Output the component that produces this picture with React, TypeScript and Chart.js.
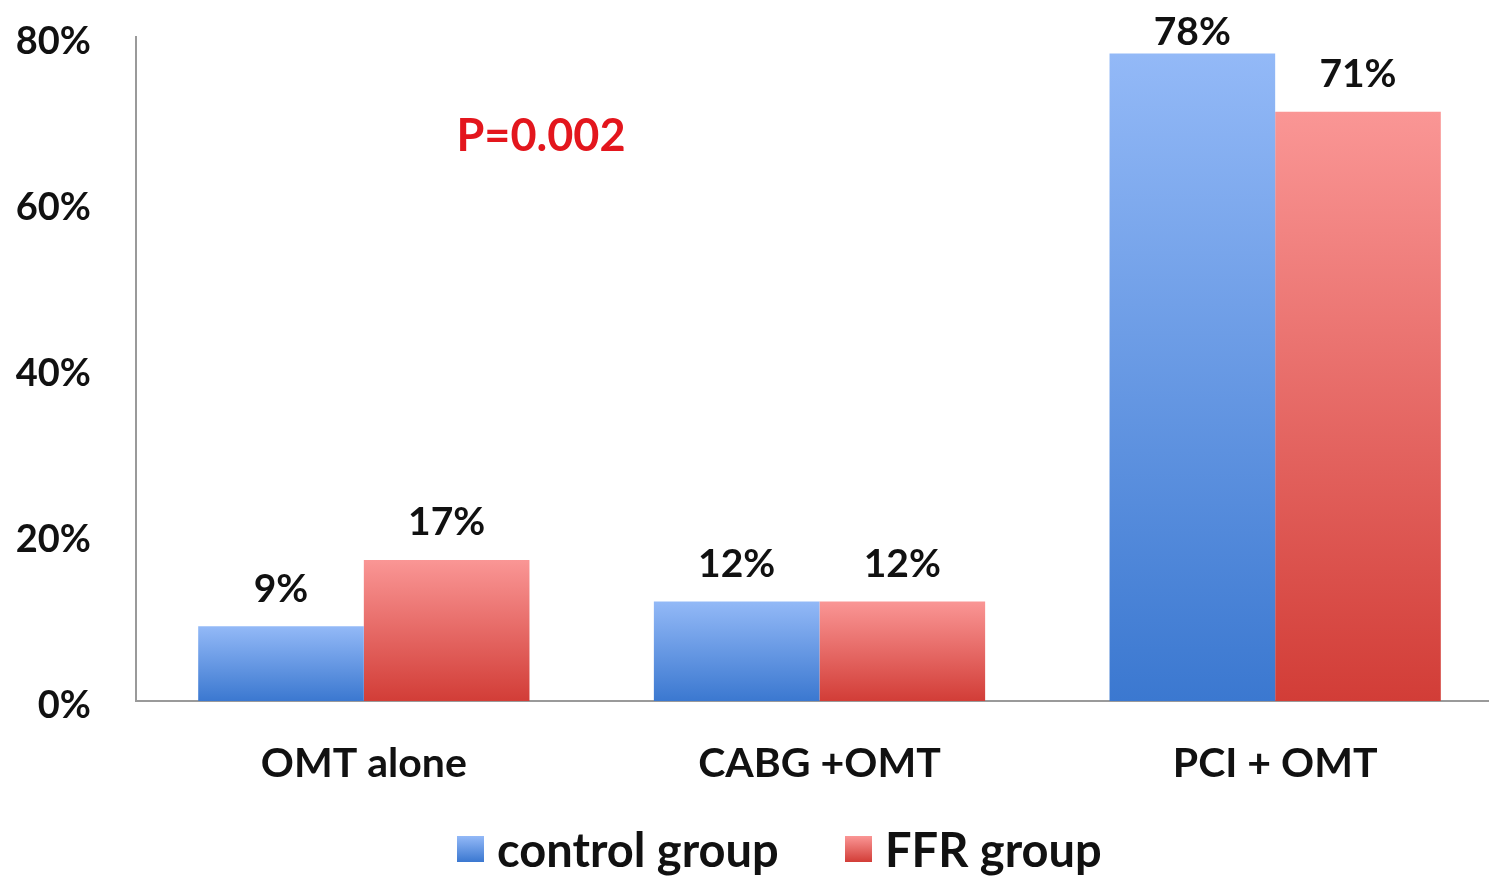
import React, { useEffect, useRef } from "react";
import { Chart, registerables } from "chart.js";

Chart.register(...registerables);

const categories = ["OMT alone", "CABG +OMT", "PCI + OMT"];
const controlGroup = [9, 12, 78];
const ffrGroup = [17, 12, 71];
const seriesNames = ["control group", "FFR group"];
const yTicks = [0, 20, 40, 60, 80];
const pValueText = "P=0.002";

const FONT = "Lato, 'Open Sans', sans-serif";
const WIDTH = 1503;
const HEIGHT = 878;

const palettes = [
  { top: "#93b9f7", bottom: "#3b78d0" },
  { top: "#fa9695", bottom: "#d23d37" },
];

function barGradient(ctx: any, datasetIndex: number) {
  const chart = ctx.chart;
  const y = chart.scales?.y;
  const pal = palettes[datasetIndex];
  if (!y || ctx.type !== "data") return pal.bottom;
  const v = ctx.parsed?.y ?? 0;
  const top = y.getPixelForValue(v);
  const base = y.getPixelForValue(0);
  if (!Number.isFinite(top) || !Number.isFinite(base) || top === base) return pal.bottom;
  const g = chart.ctx.createLinearGradient(0, top, 0, base);
  g.addColorStop(0, pal.top);
  g.addColorStop(1, pal.bottom);
  return g;
}

const valueLabels = {
  id: "valueLabels",
  afterDatasetsDraw(chart: any) {
    const c = chart.ctx;
    c.save();
    c.font = `bold 39px ${FONT}`;
    c.fillStyle = "#111";
    c.textAlign = "center";
    c.textBaseline = "middle";
    chart.data.datasets.forEach((ds: any, i: number) => {
      const meta = chart.getDatasetMeta(i);
      meta.data.forEach((el: any, j: number) => {
        const y = Math.max(el.y - 37, 32);
        c.fillText(`${ds.data[j]}%`, el.x, y);
      });
    });
    c.restore();
  },
};

const annotationAndLegend = {
  id: "annotationAndLegend",
  afterDraw(chart: any) {
    const c = chart.ctx;
    c.save();
    // p-value annotation
    c.font = `bold 45px ${FONT}`;
    c.fillStyle = "#e3161d";
    c.textAlign = "center";
    c.textBaseline = "middle";
    c.fillText(pValueText, 541, 136);

    // legend at the bottom
    c.font = `bold 47px ${FONT}`;
    c.textAlign = "left";
    const entries = [
      { x: 457, text: seriesNames[0], pal: palettes[0] },
      { x: 845, text: seriesNames[1], pal: palettes[1] },
    ];
    entries.forEach((e) => {
      const g = c.createLinearGradient(0, 836, 0, 862);
      g.addColorStop(0, e.pal.top);
      g.addColorStop(1, e.pal.bottom);
      c.fillStyle = g;
      c.fillRect(e.x, 836, 27, 26);
      c.fillStyle = "#111";
      c.fillText(e.text, e.x + 40, 852);
    });
    c.restore();
  },
};

export default function App() {
  const ref = useRef<HTMLCanvasElement | null>(null);

  useEffect(() => {
    document.body.style.margin = "0";
    document.body.style.overflow = "hidden";
    const canvas = ref.current;
    if (!canvas) return;
    const chart = new Chart(canvas, {
      type: "bar",
      data: {
        labels: categories,
        datasets: [
          {
            label: seriesNames[0],
            data: controlGroup,
            backgroundColor: (ctx: any) => barGradient(ctx, 0),
            barPercentage: 1,
            categoryPercentage: 0.727,
          },
          {
            label: seriesNames[1],
            data: ffrGroup,
            backgroundColor: (ctx: any) => barGradient(ctx, 1),
            barPercentage: 1,
            categoryPercentage: 0.727,
          },
        ],
      },
      options: {
        responsive: false,
        animation: false,
        devicePixelRatio: 1,
        layout: { padding: { top: 37, right: 0, bottom: 0, left: 0 } },
        plugins: {
          legend: { display: false },
          tooltip: { enabled: false },
        },
        scales: {
          x: {
            grid: { display: false, drawTicks: false },
            border: { display: true, color: "#9a9a9a", width: 2 },
            ticks: {
              padding: 38,
              color: "#111",
              font: { family: FONT, size: 41, weight: "bold" },
            },
            afterFit: (s: any) => {
              s.height = 177;
              s.paddingLeft = 0;
              s.paddingRight = 0;
            },
          },
          y: {
            min: 0,
            max: 80,
            afterBuildTicks: (s: any) => {
              s.ticks = yTicks.map((v) => ({ value: v }));
            },
            grid: { display: false, drawTicks: false },
            border: { display: true, color: "#9a9a9a", width: 2 },
            ticks: {
              padding: 45,
              labelOffset: 5,
              color: "#111",
              font: { family: FONT, size: 38, weight: "bold" },
              callback: (v: any) => `${v}%`,
            },
            afterFit: (s: any) => {
              s.width = 136;
              s.paddingTop = 0;
              s.paddingBottom = 0;
            },
          },
        },
      },
      plugins: [valueLabels, annotationAndLegend],
    });
    chart.update();
    return () => chart.destroy();
  }, []);

  return (
    <div style={{ width: WIDTH, height: HEIGHT, background: "#fff" }}>
      <canvas ref={ref} width={WIDTH} height={HEIGHT} />
    </div>
  );
}
